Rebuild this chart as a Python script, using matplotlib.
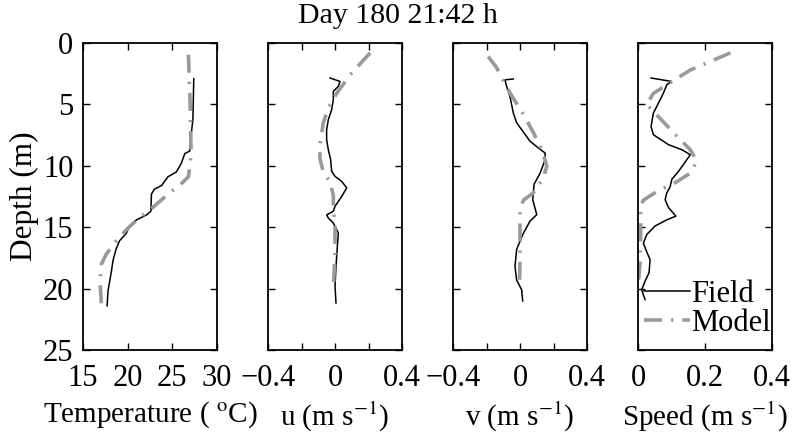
import numpy as np
import matplotlib
matplotlib.use('Agg')
import matplotlib.pyplot as plt

plt.rcParams['font.family'] = ['Liberation Serif', 'DejaVu Serif']
plt.rcParams['mathtext.fontset'] = 'stix'
plt.rcParams['font.size'] = 21

# temperature profile (depth m, deg C)
temp_field_z = [2.9, 6.25, 7.5, 8.8, 9.0, 9.8, 10.5, 10.9, 11.6, 11.9, 12.3, 13.7, 14.0,
                14.4, 14.9, 15.5, 16.1, 16.7, 17.7, 18.5, 20.2, 21.4]
temp_field = [27.4, 27.3, 27.1, 26.95, 26.4, 26.0, 25.45, 24.5, 23.8, 23.0, 22.66, 22.6, 22.1,
              21.0, 20.2, 19.85, 19.1, 18.74, 18.36, 18.2, 17.8, 17.7]
temp_model_z = [0.95, 3.0, 5.0, 7.0, 8.9, 9.8, 10.9, 11.6, 12.2, 13.4, 14.2, 15.1, 16.1,
                17.2, 18.0, 19.4, 21.3]
temp_model = [26.8, 26.9, 27.0, 27.05, 27.1, 27.0, 26.8, 25.8, 24.7, 22.8, 21.35, 20.0, 18.74,
              17.6, 17.06, 16.9, 17.06]

# east velocity u (m/s)
u_field_z = [2.85, 3.13, 3.53, 3.94, 4.62, 5.43, 6.25, 7.06, 7.87, 8.69, 9.5, 10.45, 10.86,
             11.27, 11.8, 12.49, 13.3, 13.7, 14.0, 14.25, 14.66, 15.47, 16.56, 18.2, 19.8, 21.17]
u_field = [-0.03, 0.03, 0.02, -0.01, -0.01, -0.02, -0.04, -0.05, -0.05, -0.04, -0.026, -0.02,
           0.0, 0.04, 0.07, 0.04, 0.0, -0.01, -0.05, -0.04, -0.01, 0.02, 0.014, 0.006, 0.0, 0.006]
u_model_z = [0.8, 2.6, 4.1, 5.3, 6.5, 8.3, 9.4, 10.5, 11.3, 12.4, 13.4, 15.0, 17.2, 20.0]
u_model = [0.21, 0.09, 0.01, -0.04, -0.07, -0.09, -0.09, -0.07, -0.03, -0.01, -0.01, 0.0,
           0.0, -0.01]

# north velocity v (m/s)
v_field_z = [2.93, 3.0, 3.53, 4.35, 5.7, 6.5, 7.06, 8.0, 8.55, 8.96, 9.5, 10.6, 11.5, 12.76,
             13.98, 14.5, 15.5, 16.8, 18.2, 19.3, 20.1, 21.0]
v_field = [-0.04, -0.09, -0.08, -0.06, -0.04, -0.02, 0.01, 0.06, 0.11, 0.15, 0.15, 0.12, 0.084,
           0.076, 0.10, 0.06, 0.02, -0.02, -0.03, -0.02, 0.01, 0.016]
v_model_z = [1.1, 2.0, 4.07, 5.8, 7.3, 8.7, 10.0, 11.0, 12.2, 12.8, 13.6, 15.5, 17.6, 19.8]
v_model = [-0.19, -0.14, -0.06, 0.02, 0.08, 0.13, 0.16, 0.14, 0.08, 0.02, 0.0, 0.0, 0.0, -0.003]

# current speed (m/s)
s_field_z = [2.85, 3.13, 3.4, 4.07, 4.9, 5.7, 6.8, 7.47, 8.28, 8.69, 9.1, 9.5, 10.45, 11.1,
             11.7, 12.2, 12.76, 13.4, 14.1, 14.4, 14.9, 15.6, 16.3, 17.0, 17.65, 18.7, 19.4,
             20.1, 20.9]
s_field = [0.039, 0.10, 0.086, 0.076, 0.061, 0.046, 0.039, 0.046, 0.091, 0.131, 0.156, 0.146,
           0.121, 0.101, 0.096, 0.086, 0.081, 0.091, 0.113, 0.086, 0.051, 0.026, 0.016, 0.026,
           0.036, 0.033, 0.021, 0.011, 0.021]
s_model_z = [0.8, 2.2, 4.1, 5.0, 6.0, 7.3, 8.7, 9.6, 10.6, 11.3, 12.1, 12.8, 13.3, 15.5, 17.9, 19.9]
s_model = [0.276, 0.156, 0.046, 0.026, 0.061, 0.106, 0.156, 0.176, 0.156, 0.116, 0.056, 0.016,
           0.008, 0.008, 0.006, 0.0]

panels = [
    (temp_field_z, temp_field, temp_model_z, temp_model, (15, 30), [15, 20, 25, 30], None,
     r'Temperature ( $^{\rm o}$C)'),
    (u_field_z, u_field, u_model_z, u_model, (-0.4, 0.4), [-0.4, 0, 0.4], [-0.2, 0.2],
     r'u (m s$^{-1}$)'),
    (v_field_z, v_field, v_model_z, v_model, (-0.4, 0.4), [-0.4, 0, 0.4], [-0.2, 0.2],
     r'v (m s$^{-1}$)'),
    (s_field_z, s_field, s_model_z, s_model, (0, 0.4), [0, 0.2, 0.4], None,
     r'Speed (m s$^{-1}$)'),
]

W, H = 793, 434
fig = plt.figure(figsize=(W / 100, H / 100), dpi=100)
lefts = [83, 268, 453, 638]
model_style = dict(color='#999999', lw=2.6, ls=(0, (5, 2.5, 0.6, 2.5)))

for i, (fz, fv, mz, mv, xlim, xt, xminor, xlab) in enumerate(panels):
    ax = fig.add_axes([lefts[i] / W, 1 - 350 / H, 134 / W, 307 / H])
    ax.plot(fv, fz, color='k', lw=1.1, label='Field')
    ax.plot(mv, mz, label='Model', **model_style)
    ax.set_xlim(*xlim)
    ax.set_ylim(25, 0)
    ax.set_xticks(xt)
    ax.set_xticklabels([('%g' % t).replace('-', '\u2212') for t in xt])
    if xminor:
        ax.set_xticks(xminor, minor=True)
    ax.set_yticks([0, 5, 10, 15, 20, 25])
    ax.tick_params(which='both', direction='in', top=True, right=True, length=5, width=1,
                   labelsize=22)
    ax.tick_params(axis='x', pad=10)
    ax.tick_params(axis='y', pad=7)
    for sp in ax.spines.values():
        sp.set_linewidth(1.3)
    ax.set_xlabel(xlab, fontsize=21, labelpad=5)
    if i == 0:
        ax.set_ylabel('Depth (m)', fontsize=22.5, labelpad=3)
    else:
        ax.set_yticklabels([])
    if i == 3:
        ax.legend(loc='lower right', bbox_to_anchor=(0.99, 0.04), frameon=False, fontsize=22,
                  handlelength=1.5, handletextpad=0.05, borderaxespad=0.0,
                  labelspacing=0.0, borderpad=0.0)

fig.text(398 / W, 1 - 16 / H, 'Day 180 21:42 h', ha='center', va='center', fontsize=21.5)
fig.savefig('out.png', dpi=100)
